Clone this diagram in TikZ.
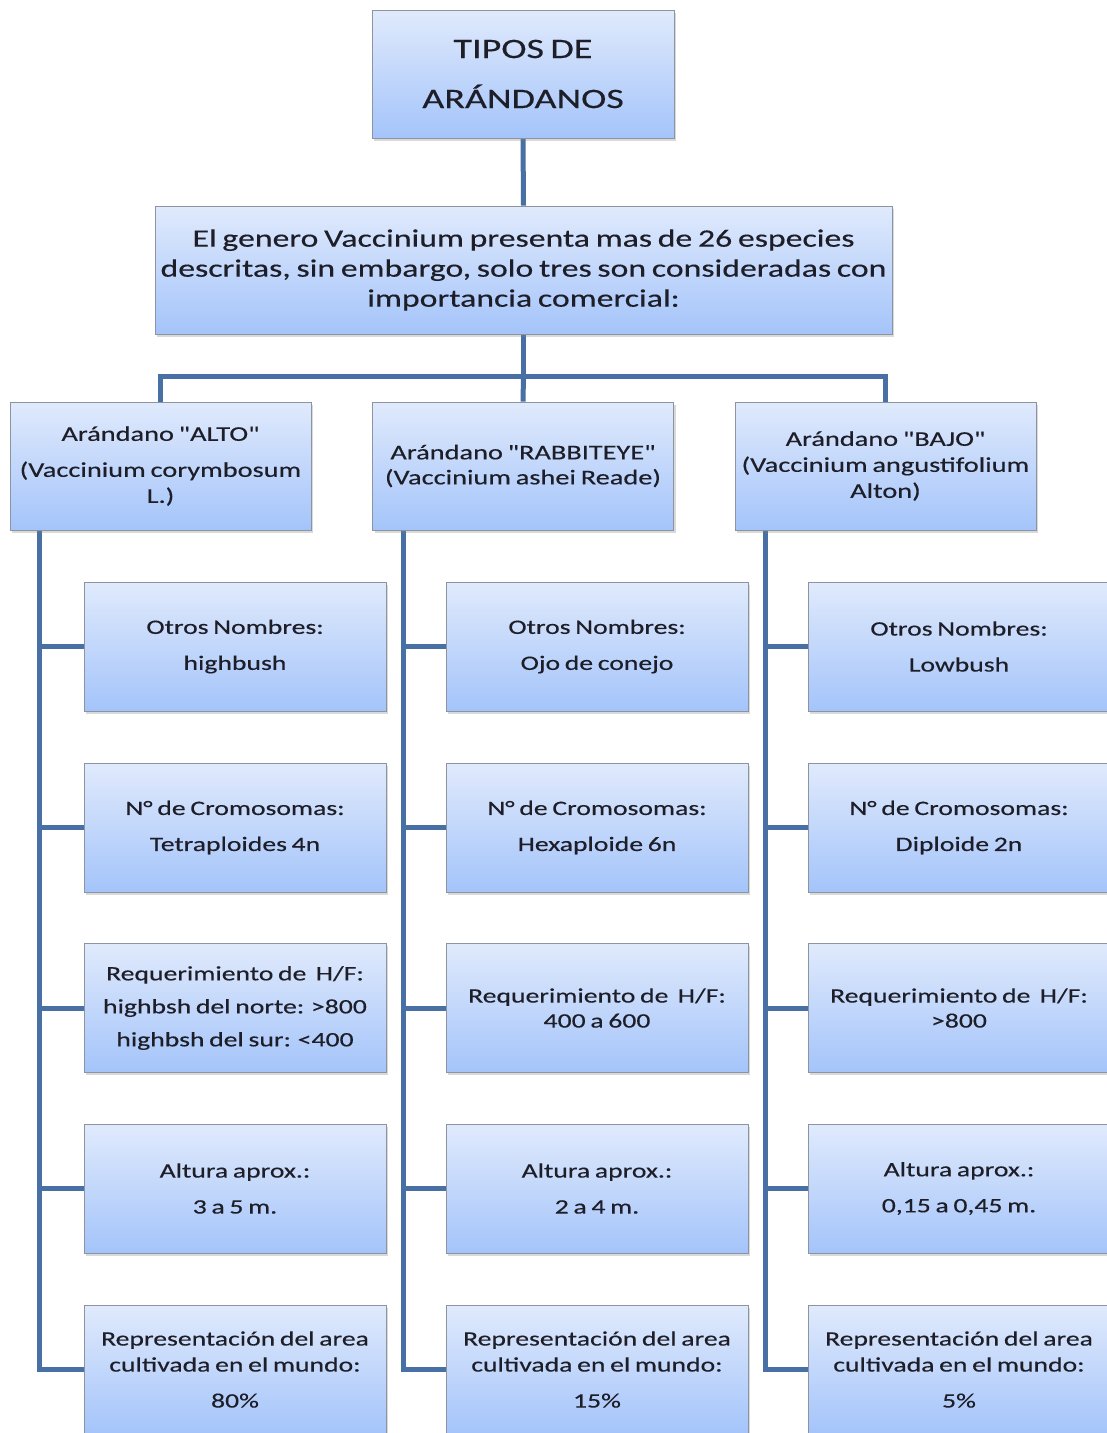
\documentclass[tikz,border=0pt]{standalone}
\usepackage{fontspec}
\setmainfont{Carlito}[FakeStretch=1.35, FakeBold=0.35, Ligatures=TeXOff, WordSpace=0.75]
\usetikzlibrary{shadows,backgrounds}
\definecolor{boxtop}{RGB}{224,234,252}
\definecolor{boxbot}{RGB}{164,196,250}
\definecolor{boxline}{RGB}{140,148,162}
\definecolor{conncol}{RGB}{72,112,165}
\definecolor{txt}{RGB}{30,30,40}
\begin{document}
\begin{tikzpicture}[x=1pt,y=-1pt]
\tikzset{
  box/.style={draw=boxline, line width=0.8pt, top color=boxtop, bottom color=boxbot,
    drop shadow={shadow xshift=2pt, shadow yshift=-2.5pt, opacity=0.3},
    inner sep=0pt, align=center, text=txt},
  kind/.style={box, minimum width=301pt, minimum height=128pt, font=\fontsize{21}{26}\selectfont},
  leaf/.style={box, minimum width=302pt, minimum height=129pt, font=\fontsize{20.5}{36}\selectfont},
  conn/.style={draw=conncol, line width=5pt}
}
\useasboundingbox (0,0) rectangle (1107,1433);
\clip (0,0) rectangle (1107,1433);

\node[box, minimum width=302pt, minimum height=128pt, font=\fontsize{28.2}{50}\selectfont] (title) at (523,74) {TIPOS DE\\ARÁNDANOS};
\node[box, minimum width=737pt, minimum height=128pt, font=\fontsize{25}{30}\selectfont] (mid) at (523.5,270) {El genero Vaccinium presenta mas de 26 especies\\descritas, sin embargo, solo tres son consideradas con\\importancia comercial:};

\node[kind] (alto) at (160.5,466) {Arándano "ALTO"\\[10pt](Vaccinium corymbosum\\L.)};
\node[kind] (rab) at (523,466) {Arándano "RABBITEYE"\\[-1pt](Vaccinium ashei Reade)};
\node[kind] (bajo) at (885.5,466) {Arándano "BAJO"\\(Vaccinium angustifolium\\Alton)};

% column 1
\node[leaf] (a1) at (235,646.5) {Otros Nombres:\\highbush};
\node[leaf] (a2) at (235,827.5) {N° de Cromosomas:\\Tetraploides 4n};
\node[leaf, font=\fontsize{20.5}{33}\selectfont] (a3) at (235,1008) {Requerimiento de \ H/F:\\highbsh del norte: >800\\highbsh del sur: <400};
\node[leaf] (a4) at (235,1188.5) {Altura aprox.:\\3 a 5 m.};
\node[leaf] (a5) at (235,1369.5) {Representación del area\\[-10pt]cultivada en el mundo:\\80\%};
% column 2
\node[leaf] (b1) at (597,646.5) {Otros Nombres:\\Ojo de conejo};
\node[leaf] (b2) at (597,827.5) {N° de Cromosomas:\\Hexaploide 6n};
\node[leaf] (b3) at (597,1008) {Requerimiento de \ H/F:\\[-11pt]400 a 600};
\node[leaf] (b4) at (597,1188.5) {Altura aprox.:\\2 a 4 m.};
\node[leaf] (b5) at (597,1369.5) {Representación del area\\[-10pt]cultivada en el mundo:\\15\%};
% column 3
\node[leaf] (c1) at (959,646.5) {Otros Nombres:\\Lowbush};
\node[leaf] (c2) at (959,827.5) {N° de Cromosomas:\\Diploide 2n};
\node[leaf] (c3) at (959,1008) {Requerimiento de \ H/F:\\[-11pt]>800};
\node[leaf] (c4) at (959,1188.5) {Altura aprox.:\\0,15 a 0,45 m.};
\node[leaf] (c5) at (959,1369.5) {Representación del area\\[-10pt]cultivada en el mundo:\\5\%};

\begin{pgfonlayer}{background}
  \draw[conn] (title.south) -- (mid.north);
  \coordinate (bar) at (mid.south |- 0,376);
  \draw[conn] (mid.south) -- (bar);
  \draw[conn] (alto.north) |- (bar) -| (bajo.north);
  \draw[conn] (bar) -- (rab.north);
  \coordinate (sA) at ([xshift=30pt]alto.south west);
  \coordinate (sB) at ([xshift=31pt]rab.south west);
  \coordinate (sC) at ([xshift=31pt]bajo.south west);
  \draw[conn] (sA) |- (a5.west);
  \draw[conn] (sB) |- (b5.west);
  \draw[conn] (sC) |- (c5.west);
  \foreach \i in {1,...,4} {
    \draw[conn] (sA |- a\i.west) -- (a\i.west);
    \draw[conn] (sB |- b\i.west) -- (b\i.west);
    \draw[conn] (sC |- c\i.west) -- (c\i.west);
  }
\end{pgfonlayer}
\end{tikzpicture}
\end{document}
